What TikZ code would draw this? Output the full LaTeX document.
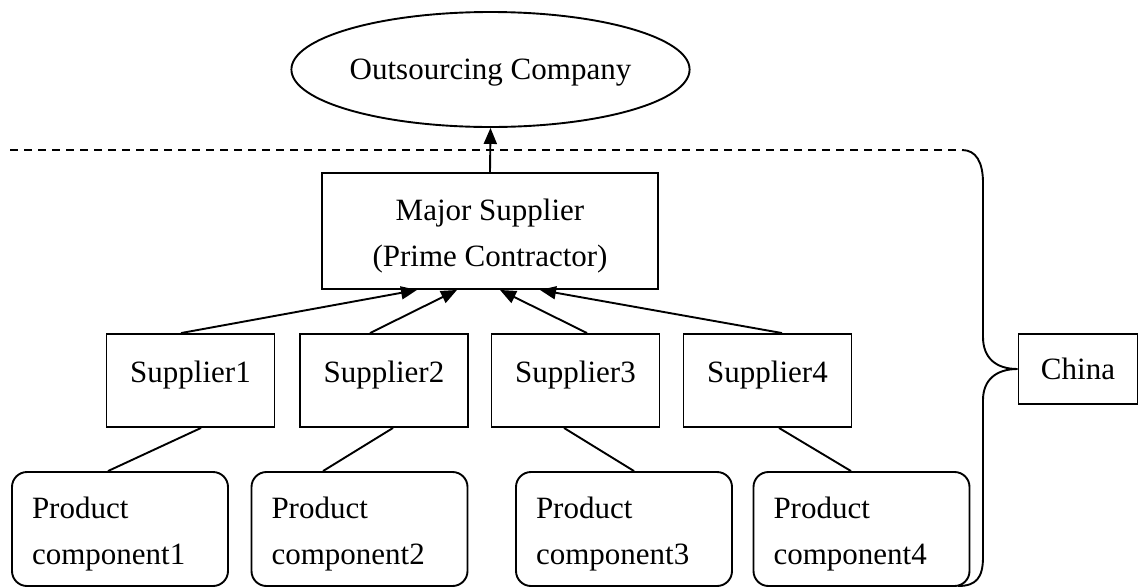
\documentclass[tikz,border=0pt]{standalone}
\usepackage{fontspec}
\setmainfont{Liberation Serif}
\usetikzlibrary{shapes.geometric,arrows.meta}
\tikzset{
  every node/.style={font=\fontsize{31}{46}\selectfont},
  ln/.style={line width=1.9pt},
  boxnode/.style={draw, line width=1.9pt, inner sep=0pt},
  supbox/.style={boxnode, minimum width=168pt, minimum height=93pt, text height=22pt, text depth=18pt},
  prodbox/.style={boxnode, rounded corners=15pt, minimum height=114pt, inner xsep=20pt, text width=176pt, align=left},
  arr/.style={ln, -{Triangle[length=16pt,width=13pt]}},
}
\newcommand{\firstline}{\rule{0pt}{31pt}}
\begin{document}
\begin{tikzpicture}[x=1pt,y=-1pt]
\useasboundingbox (0,0) rectangle (1139,587);
% top
\node[boxnode, ellipse, minimum width=387pt, minimum height=115pt, text height=21pt, text depth=1pt] (E) at (490.5,69.5) {Outsourcing Company};
\node[boxnode, minimum width=336pt, minimum height=116pt, align=center] (M) at (490,231) {\firstline Major Supplier\\(Prime Contractor)};
% suppliers
\node[supbox] (S1) at (190.5,380.5) {Supplier1};
\node[supbox] (S2) at (384,380.5) {Supplier2};
\node[supbox] (S3) at (575.5,380.5) {Supplier3};
\node[supbox] (S4) at (767.5,380.5) {Supplier4};
% products
\node[prodbox, minimum width=216pt] (P1) at (120,529) {\firstline Product\\component1};
\node[prodbox, minimum width=215pt] (P2) at (359.5,529) {\firstline Product\\component2};
\node[prodbox, minimum width=216pt] (P3) at (624,529) {\firstline Product\\component3};
\node[prodbox, minimum width=215pt] (P4) at (861.5,529) {\firstline Product\\component4};
% China
\node[boxnode, minimum width=119pt, minimum height=70pt] (C) at (1078,369) {China};
% arrows
\draw[arr] (M.north) -- (E.south);
\draw[arr] ([xshift=-9.5pt]S1.north) -- ([xshift=-73pt]M.south);
\draw[arr] ([xshift=-14pt]S2.north) -- ([xshift=-33pt]M.south);
\draw[arr] ([xshift=11.5pt]S3.north) -- ([xshift=10pt]M.south);
\draw[arr] ([xshift=14.5pt]S4.north) -- ([xshift=50pt]M.south);
% supplier to product
\draw[ln] ([xshift=10.5pt]S1.south) -- ([xshift=-12pt]P1.north);
\draw[ln] ([xshift=9pt]S2.south) -- ([xshift=-36.5pt]P2.north);
\draw[ln] ([xshift=-11.5pt]S3.south) -- ([xshift=10pt]P3.north);
\draw[ln] ([xshift=11.5pt]S4.south) -- ([xshift=-10.5pt]P4.north);
% dashed line and brace
\coordinate (DL) at (10,150);
\coordinate (DR) at (962,150);
\coordinate (BB) at (958,586);
\draw[ln, dash pattern=on 8pt off 6pt] (DL) -- (DR);
\draw[ln] (DR) .. controls (976,150) and (983,162) .. (983,183) -- (983,337)
  .. controls (983,358) and (996,369) .. (C.west)
  .. controls (996,369) and (983,380) .. (983,400) -- (983,557)
  .. controls (983,578) and (976,586) .. (BB);
\end{tikzpicture}
\end{document}
